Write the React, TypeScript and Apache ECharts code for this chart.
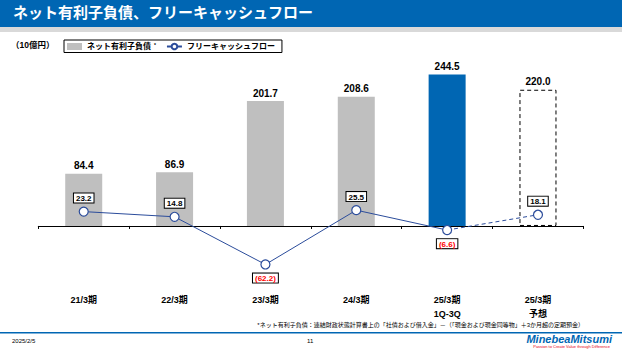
import React, { useEffect, useRef } from "react";
import * as echarts from "echarts";

const categories = ["21/3期", "22/3期", "23/3期", "24/3期", "25/3期\n1Q-3Q", "25/3期\n予想"];
const netDebt = [84.4, 86.9, 201.7, 208.6, 244.5, 220.0];
const fcfActual = [23.2, 14.8, -62.2, 25.5, -6.6];
const fcfForecast = [18.1];

const titleText = "ネット有利子負債、フリーキャッシュフロー";
const unitText = "（10億円）";
const footnoteText =
  "*ネット有利子負債：連結財政状態計算書上の「社債および借入金」－（「現金および現金同等物」＋3か月超の定期預金）";
const dateText = "2025/2/5";
const pageText = "11";

const JP = "'Liberation Sans', 'Noto Sans CJK JP', sans-serif";
const BLUE = "#0066B3";
const LINE_BLUE = "#2B4C9B";
const GREY = "#BFBFBF";

export default function App() {
  const ref = useRef<HTMLDivElement>(null);
  useEffect(() => {
    if (!ref.current) return;
    const chart = echarts.init(ref.current, undefined, { renderer: "svg" });

    const barData = netDebt.map((v, i) => {
      if (i === netDebt.length - 1) {
        return {
          value: v,
          itemStyle: { color: "rgba(255,255,255,0)", borderColor: "#000", borderWidth: 1, borderType: [4, 3] },
        };
      }
      if (i === netDebt.length - 2) return { value: v, itemStyle: { color: BLUE } };
      return { value: v, itemStyle: { color: GREY } };
    });

    const fcfLabel = (v: number) => (v < 0 ? `(${Math.abs(v).toFixed(1)})` : v.toFixed(1));
    const baseLabel = {
      show: true,
      fontFamily: JP,
      fontSize: 8,
      fontWeight: "bold" as const,
      color: "#000",
      backgroundColor: "#fff",
      borderColor: "#000",
      borderWidth: 1,
      padding: [1, 2, 0, 2],
      distance: 4,
      formatter: (p: any) => fcfLabel(p.value),
    };
    const pointData = (v: number) =>
      v < 0
        ? { value: v, label: { position: "bottom", color: "#FF0000" } }
        : { value: v, label: { position: "top" } };

    const actualData: any[] = fcfActual.map(pointData);
    fcfForecast.forEach(() => actualData.push("-"));
    const forecastData: any[] = fcfActual.map(() => "-");
    forecastData[fcfActual.length - 1] = { value: fcfActual[fcfActual.length - 1], symbol: "none", label: { show: false } };
    fcfForecast.forEach((v) => forecastData.push(pointData(v)));

    chart.setOption({
      animation: false,
      textStyle: { fontFamily: JP },
      grid: { left: 38.3, right: 38.6, top: 65, bottom: 80.7, outerBoundsMode: "none", containLabel: false },
      legend: {
        left: 64,
        top: 40,
        itemGap: 10,
        itemWidth: 15,
        itemHeight: 7,
        padding: [2, 7, 2, 3],
        borderColor: "#000",
        borderWidth: 1,
        textStyle: {
          fontFamily: JP,
          fontSize: 8,
          fontWeight: "bold",
          color: "#000",
          rich: { sup: { fontSize: 5, verticalAlign: "top", padding: [0, 0, 4, 3], color: "#000" } },
        },
        data: [
          { name: "ネット有利子負債", icon: "rect" },
          { name: "フリーキャッシュフロー" },
        ],
        formatter: (name: string) => (name === "ネット有利子負債" ? `${name}{sup|*}` : name),
      },
      xAxis: {
        type: "category",
        data: categories,
        axisLine: { onZero: true, lineStyle: { color: "#000", width: 1 } },
        axisTick: { show: true, length: 3, lineStyle: { color: "#000" } },
        axisLabel: {
          margin: 24,
          fontFamily: JP,
          fontSize: 9,
          fontWeight: "bold",
          color: "#000",
          lineHeight: 14,
          verticalAlign: "top",
        },
      },
      yAxis: {
        type: "value",
        min: -70,
        max: 260,
        show: false,
        splitLine: { show: false },
      },
      series: [
        {
          name: "ネット有利子負債",
          type: "bar",
          barWidth: 37,
          data: barData,
          itemStyle: { color: GREY },
          label: {
            show: true,
            position: "top",
            distance: 3,
            fontFamily: JP,
            fontSize: 10,
            fontWeight: "bold",
            color: "#000",
            formatter: (p: any) => Number(p.value).toFixed(1),
          },
        },
        {
          name: "フリーキャッシュフロー",
          type: "line",
          data: actualData,
          symbol: "circle",
          symbolSize: 9,
          lineStyle: { color: LINE_BLUE, width: 1 },
          itemStyle: { color: "#fff", borderColor: LINE_BLUE, borderWidth: 1.2 },
          label: baseLabel,
          z: 5,
        },
        {
          name: "FCF予想",
          type: "line",
          data: forecastData,
          symbol: "circle",
          symbolSize: 9,
          lineStyle: { color: LINE_BLUE, width: 1, type: [4, 3] },
          itemStyle: { color: "#fff", borderColor: LINE_BLUE, borderWidth: 1.2 },
          label: baseLabel,
          z: 4,
        },
      ],
      graphic: [
        { type: "rect", left: 0, top: 0, shape: { width: 622, height: 27 }, style: { fill: BLUE } },
        { type: "rect", left: 0, top: 27, shape: { width: 622, height: 5 }, style: { fill: "#D9D9D9" } },
        {
          type: "text",
          left: 13,
          top: 5,
          style: { text: titleText, fill: "#fff", font: `bold 15px ${JP}` },
        },
        {
          type: "text",
          left: 11,
          top: 41,
          style: { text: unitText, fill: "#000", font: `bold 8.5px ${JP}` },
        },
        {
          type: "text",
          right: 38,
          top: 322,
          style: { text: footnoteText, fill: "#000", font: `6px ${JP}` },
        },
        { type: "rect", left: 0, top: 332, shape: { width: 622, height: 1.5 }, style: { fill: BLUE } },
        { type: "text", left: 12, top: 338, style: { text: dateText, fill: "#000", font: `6px ${JP}` } },
        { type: "text", left: 307, top: 338, style: { text: pageText, fill: "#000", font: `6px ${JP}` } },
        {
          type: "text",
          right: 10,
          top: 333,
          style: { text: "MinebeaMitsumi", fill: BLUE, font: `italic bold 11px ${JP}` },
        },
        {
          type: "text",
          right: 12,
          top: 344,
          style: { text: "Passion to Create Value through Difference", fill: "#E60012", font: `4px ${JP}` },
        },
      ],
    });
    return () => chart.dispose();
  }, []);
  return (
    <div
      ref={ref}
      style={{ position: "fixed", left: 0, top: 0, width: 622, height: 350, background: "#fff" }}
    />
  );
}
